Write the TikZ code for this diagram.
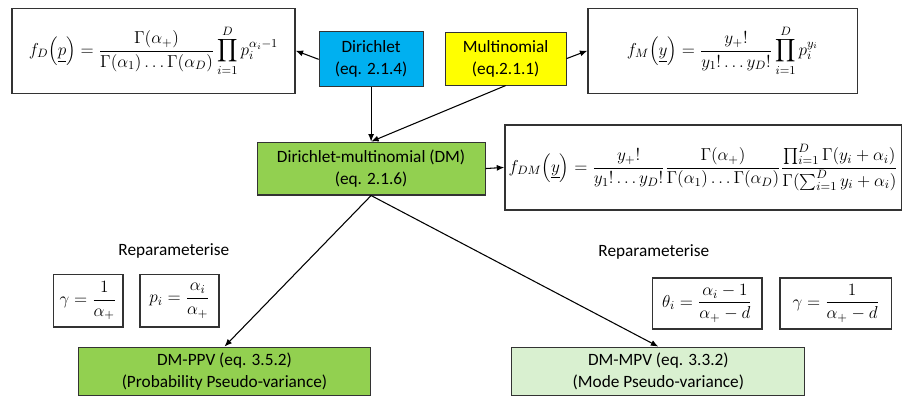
\RequirePackage{fix-cm}
\documentclass[tikz,border=0pt]{standalone}
\usepackage{amsmath}
\usepackage{fontspec}
\setmainfont{Carlito}
\usetikzlibrary{arrows.meta}
\definecolor{dirblue}{HTML}{00B0F0}
\definecolor{multyellow}{HTML}{FFFF00}
\definecolor{dmgreen}{HTML}{92D050}
\definecolor{mpvgreen}{HTML}{D9F0D0}
\definecolor{edgegrey}{HTML}{333333}
\tikzset{
    distbox/.style={draw=edgegrey, line width=0.8pt, align=center, inner sep=0pt,
        font=\fontsize{13}{16.5}\selectfont},
    eqbox/.style={draw=edgegrey, line width=0.9pt, inner sep=0pt,
        font=\fontsize{13}{16}\selectfont},
    reptext/.style={font=\fontsize{13}{16}\selectfont},
    link/.style={->, line width=0.8pt, >={Latex[length=2mm,width=1.6mm]}}
}
\begin{document}
\begin{tikzpicture}
    \useasboundingbox (0,0) rectangle (24.0,-10.48);
    % top row
    \node[eqbox, minimum width=7.49cm, minimum height=2.25cm] (fD) at (4.06,-1.34)
        {$f_D\Big(\underline{p}\Big)=\dfrac{\Gamma(\alpha_+)}{\Gamma(\alpha_1)\ldots\Gamma(\alpha_D)}\displaystyle\prod_{i=1}^{D}p_i^{\alpha_i-1}$};
    \node[distbox, fill=dirblue, minimum width=2.75cm, minimum height=1.46cm] (dirichlet) at (9.82,-1.57)
        {Dirichlet\\(eq. 2.1.4)};
    \node[distbox, fill=multyellow, minimum width=3.20cm, minimum height=1.40cm] (multinomial) at (13.38,-1.55)
        {Multinomial\\(eq.2.1.1)};
    \node[eqbox, minimum width=7.12cm, minimum height=2.25cm] (fM) at (19.12,-1.34)
        {$f_M\Big(\underline{y}\Big)=\dfrac{y_+!}{y_1!\ldots y_D!}\displaystyle\prod_{i=1}^{D}p_i^{y_i}$};
    % middle row
    \node[distbox, fill=dmgreen, minimum width=6.03cm, minimum height=1.40cm] (dm) at (9.82,-4.46)
        {Dirichlet-multinomial (DM)\\(eq. 2.1.6)};
    \node[eqbox, minimum width=10.50cm, minimum height=2.25cm] (fDM) at (18.61,-4.43)
        {$f_{DM}\Big(\underline{y}\Big)=\dfrac{y_+!}{y_1!\ldots y_D!}\dfrac{\Gamma(\alpha_+)}{\Gamma(\alpha_1)\ldots\Gamma(\alpha_D)}\dfrac{\prod\nolimits_{i=1}^{D}\Gamma(y_i+\alpha_i)}{\Gamma(\sum\nolimits_{i=1}^{D}y_i+\alpha_i)}$};
    % reparameterisations
    \node[reptext] (repL) at (4.60,-6.64) {Reparameterise};
    \node[eqbox, minimum width=1.85cm, minimum height=1.38cm] (gammaL) at (2.33,-7.96)
        {$\gamma=\dfrac{1}{\alpha_+}$};
    \node[eqbox, minimum width=2.09cm, minimum height=1.38cm] (pL) at (4.75,-7.96)
        {$p_i=\dfrac{\alpha_i}{\alpha_+}$};
    \node[reptext] (repR) at (17.30,-6.67) {Reparameterise};
    \node[eqbox, minimum width=2.91cm, minimum height=1.35cm] (thetaR) at (18.71,-8.03)
        {$\theta_i=\dfrac{\alpha_i-1}{\alpha_+-d}$};
    \node[eqbox, minimum width=2.96cm, minimum height=1.35cm] (gammaR) at (22.12,-8.03)
        {$\gamma=\dfrac{1}{\alpha_+-d}$};
    % bottom row
    \node[distbox, fill=dmgreen, minimum width=7.75cm, minimum height=1.27cm] (ppv) at (5.94,-9.82)
        {DM-PPV (eq. 3.5.2)\\(Probability Pseudo-variance)};
    \node[distbox, fill=mpvgreen, minimum width=7.75cm, minimum height=1.27cm] (mpv) at (17.42,-9.82)
        {DM-MPV (eq. 3.3.2)\\(Mode Pseudo-variance)};
    % arrows
    \draw[link] (dirichlet.west) -- (fD.east);
    \draw[link] (multinomial.east) -- (fM.west);
    \draw[link] (dirichlet.south) -- (dm.north);
    \draw[link] (multinomial.south) -- (dm.north);
    \draw[link] (dm.east) -- (fDM.west);
    \draw[link] (dm.south) -- (ppv.north);
    \draw[link] (dm.south) -- (mpv.north);
\end{tikzpicture}
\end{document}
